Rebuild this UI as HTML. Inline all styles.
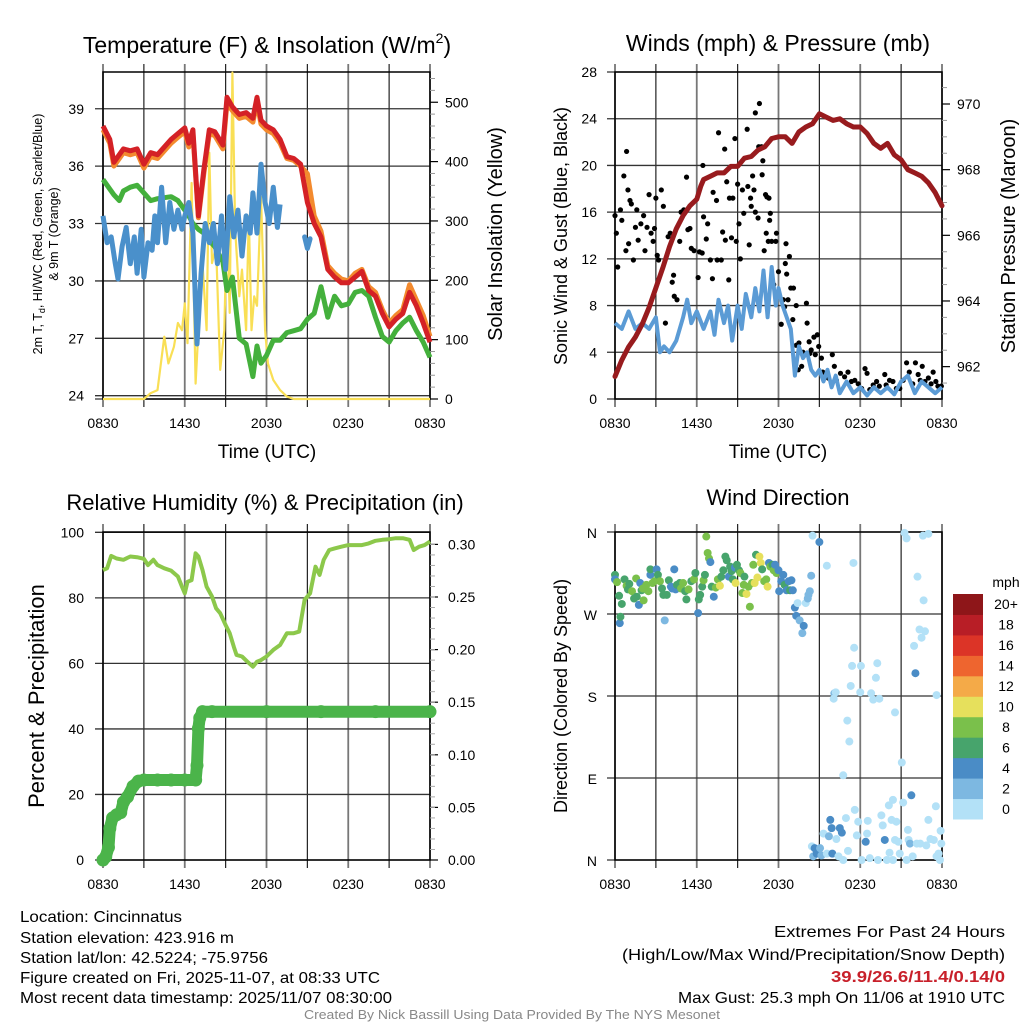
<!DOCTYPE html>
<html><head><meta charset="utf-8"><style>
html,body{margin:0;padding:0;background:#fff;}
svg{display:block;font-family:"Liberation Sans",sans-serif;}
</style></head><body>
<svg id="chart" width="1024" height="1024" viewBox="0 0 1024 1024" xmlns="http://www.w3.org/2000/svg">
<rect width="1024" height="1024" fill="#fff"/>
<g id="g1"></g>
<g id="g2"></g>
<g id="g3"></g>
<g id="g4"></g>
<g id="footer">
<text x="20" y="922" font-size="16" lengthAdjust="spacingAndGlyphs" textLength="162">Location: Cincinnatus</text>
<text x="20" y="943" font-size="16" lengthAdjust="spacingAndGlyphs" textLength="214">Station elevation: 423.916 m</text>
<text x="20" y="963" font-size="16" lengthAdjust="spacingAndGlyphs" textLength="248">Station lat/lon: 42.5224; -75.9756</text>
<text x="20" y="983" font-size="16" lengthAdjust="spacingAndGlyphs" textLength="360">Figure created on Fri, 2025-11-07, at 08:33 UTC</text>
<text x="20" y="1003" font-size="16" lengthAdjust="spacingAndGlyphs" textLength="372">Most recent data timestamp: 2025/11/07 08:30:00</text>
<text x="1005" y="937" font-size="16" text-anchor="end" lengthAdjust="spacingAndGlyphs" textLength="231">Extremes For Past 24 Hours</text>
<text x="1005" y="960" font-size="16" text-anchor="end" lengthAdjust="spacingAndGlyphs" textLength="383">(High/Low/Max Wind/Precipitation/Snow Depth)</text>
<text x="1005" y="982" font-size="16" font-weight="bold" fill="#c8202a" text-anchor="end" lengthAdjust="spacingAndGlyphs" textLength="174">39.9/26.6/11.4/0.14/0</text>
<text x="1005" y="1003" font-size="16" text-anchor="end" lengthAdjust="spacingAndGlyphs" textLength="327">Max Gust: 25.3 mph On 11/06 at 1910 UTC</text>
<text x="512" y="1019" font-size="13" fill="#888" text-anchor="middle" lengthAdjust="spacingAndGlyphs" textLength="416">Created By Nick Bassill Using Data Provided By The NYS Mesonet</text>
</g>
</svg>
<script>
// ---------- data ----------
const timeLabels = ["0830","1430","2030","0230","0830"];
// Temperature panel
const tempHours = [0,0.5,0.8,1.2,1.5,2,2.5,3,3.5,4,5,5.5,6,6.3,6.6,7,7.4,7.8,8.2,8.8,9.1,9.5,10,10.5,11,11.3,11.6,12,12.5,13,13.5,14,14.5,15,15.5,16,16.5,17,17.5,18,18.5,19,19.5,20,20.5,21,21.5,22,22.5,23,23.5,24];
const tempRed = [38.1,37.4,36.2,36.6,36.9,36.8,36.9,36.1,36.7,36.6,37.4,37.7,38.0,37.2,37.9,33.4,35.8,37.9,37.8,37.1,39.6,39.1,38.7,38.8,38.5,39.6,38.4,38.1,37.9,37.4,36.5,36.4,36.1,34.1,33.0,32.3,30.6,30.2,29.9,29.9,30.2,30.5,29.5,29.2,28.3,27.6,28.0,28.3,29.4,28.7,27.8,26.8];
const tempOrange = [37.9,37.2,36.0,36.4,36.7,36.6,36.7,35.9,36.5,36.4,37.2,37.5,37.8,37.0,37.7,33.3,35.6,37.7,37.6,36.9,39.3,38.9,38.5,38.6,38.3,39.3,38.2,37.9,37.7,37.2,36.4,36.3,36.0,35.6,33.4,32.6,30.8,30.4,30.1,30.0,30.4,30.6,29.7,29.4,28.5,27.8,28.2,28.5,29.8,29.0,28.2,27.1];
const tempGreen = [35.3,34.8,34.5,34.2,34.7,34.9,35.0,34.6,34.2,34.3,34.4,34.2,33.7,33.4,33.0,32.7,32.5,32.1,31.8,31.0,29.5,30.2,27.0,26.7,25.0,26.6,25.7,26.1,26.9,26.9,27.3,27.4,27.5,28.0,28.3,29.7,28.1,29.2,28.7,28.8,29.4,29.5,29.2,28.1,27.1,26.8,27.4,27.8,28.1,27.4,26.8,26.0];
const wcHours = [0,0.3,0.6,0.9,1.1,1.4,1.7,2,2.3,2.5,2.8,3,3.3,3.6,3.8,4,4.3,4.6,4.9,5.2,5.5,5.8,6,6.3,6.6,6.9,7.2,7.5,7.8,8.1,8.4,8.7,9,9.3,9.6,9.9,10.2,10.5,10.8,11,11.3,11.6,11.9,12.2,12.5,12.8,13];
const wcBlue = [33.4,32.0,32.3,30.9,30.1,31.8,32.8,30.9,32.3,30.4,32.7,30.2,32.0,31.6,33.4,32.0,34.9,32.0,34.1,32.7,33.7,32.7,33.4,34.1,32.5,26.7,30.4,33.0,32.0,33.0,30.9,33.4,30.6,34.4,32.3,33.7,31.3,33.4,32.5,34.6,32.5,36.1,34.1,33.0,34.9,32.8,34.0];
const wcHours2 = [14.8,15.0,15.2];
const wcBlue2 = [32.3,31.7,32.2];
const solarHours = [0,3,3.5,4,4.5,4.8,5.2,5.5,5.8,6,6.2,6.5,6.8,7,7.3,7.6,7.8,8,8.3,8.6,8.9,9.1,9.3,9.5,9.7,10,10.2,10.5,10.7,10.9,11.1,11.3,11.6,11.9,12.1,12.5,13,13.5,14,24];
const solarVals = [0,0,10,15,105,60,88,128,116,161,94,364,26,116,229,116,415,229,257,49,116,308,145,550,285,173,218,116,308,116,173,157,341,116,60,32,15,4,0,0];
const tempTicks = [24,27,30,33,36,39];
const solarTicks = [0,100,200,300,400,500];
// Winds panel
const windHours = [0,0.5,1,1.5,2,2.5,3,3.3,3.6,4,4.5,5,5.3,5.6,6,6.5,7,7.3,7.6,8,8.3,8.6,9,9.3,9.6,10,10.3,10.6,10.9,11.2,11.5,11.8,12,12.3,12.6,12.9,13.2,13.5,13.8,14.1,14.4,14.7,15,15.3,15.6,15.9,16.2,16.5,17,17.5,18,18.5,19,19.5,20,20.5,21,21.5,22,22.5,23,23.5,24];
const windVals = [6.5,6,7.5,6,6.5,6,7,4,4.5,4,5,7,8.5,6.5,7.5,6,7.5,5.5,8.5,6.5,8,5,8,6,9,7,9.5,7.5,11,7,11.3,8,9.5,8,7,6,2,4.5,3.5,4,2.5,2,2.5,1.5,2.5,1,2,0.5,1.5,0.5,1,0.3,1,0.5,1,0.4,1.5,2,0.5,1.5,1,0.5,1];
const presHours = [0,0.5,1,1.5,2,2.5,3,3.5,4,4.5,5,5.5,6,6.3,6.5,7,7.5,8,8.5,9,9.5,10,10.5,11,11.5,12,12.5,13,13.5,14,14.5,15,15.5,16,16.5,17,17.5,18,18.5,19,19.5,20,20.5,21,21.5,22,22.5,23,23.5,24];
const presVals = [961.7,962.2,962.6,962.9,963.3,963.8,964.4,965.0,965.65,966.2,966.6,966.9,967.1,967.5,967.7,967.8,967.9,967.9,968.1,968.1,968.35,968.4,968.6,968.7,968.95,969.0,969.0,968.8,969.15,969.3,969.4,969.7,969.6,969.5,969.55,969.4,969.3,969.3,969.1,968.8,968.65,968.8,968.45,968.3,968.0,967.9,967.8,967.6,967.3,966.9];
const gustHours = [0,0.1,0.2,0.4,0.5,0.65,0.8,0.85,0.95,1.0,1.1,1.2,1.35,1.5,1.6,1.7,1.9,2.1,2.2,2.35,2.5,2.65,2.8,2.9,3.0,3.1,3.2,3.4,3.55,3.7,3.9,4.05,4.2,4.3,4.35,4.55,4.75,4.85,5.05,5.25,5.35,5.5,5.6,5.8,6.1,6.2,6.4,6.45,6.5,6.7,6.8,7.0,7.15,7.2,7.45,7.5,7.6,7.8,7.9,8.05,8.1,8.2,8.35,8.4,8.55,8.65,8.8,8.9,9.0,9.1,9.2,9.35,9.45,9.7,9.75,9.85,9.95,10.0,10.1,10.2,10.3,10.3,10.5,10.55,10.6,10.75,10.8,10.85,10.95,11.05,11.15,11.3,11.35,11.4,11.1,11.25,11.5,11.65,11.8,11.85,12.0,12.2,12.35,12.45,12.5,12.55,12.6,12.7,12.8,12.9,13.05,13.1,13.3,13.3,13.45,13.5,13.7,13.8,13.9,14.05,14.1,14.25,14.3,14.4,14.6,14.7,14.85,14.95,15.15,15.25,15.5,15.65,15.95,16.1,16.25,16.55,16.85,17.1,17.35,17.6,17.85,18.1,18.35,18.5,18.7,18.95,19.2,19.4,19.8,19.9,20.15,20.4,20.65,20.9,21.15,21.4,21.6,21.85,22.05,22.25,22.4,22.55,22.75,23.0,23.2,23.35,23.55,23.7,23.95];
const gustVals = [15.7,14.2,11.3,16.2,15.3,19.1,12.7,21.2,17.9,13.3,17.0,16.7,11.9,14.7,16.2,13.6,15.0,15.7,12.7,14.7,17.5,14.2,13.5,14.6,17.2,12.3,11.9,17.9,16.5,6.5,13.9,14.2,10.0,10.6,8.8,8.5,13.5,16.0,16.2,19.0,14.5,14.6,12.9,12.7,10.4,12.6,12.5,20.0,15.6,13.7,15.0,11.9,10.3,17.7,17.0,11.9,22.8,11.9,14.3,21.4,13.6,18.6,10.2,17.2,13.8,17.2,22.3,13.5,18.4,15.0,12.0,17.9,15.9,23.1,18.2,13.2,17.2,16.5,19.1,17.9,16.0,24.5,15.5,21.6,25.3,21.6,19.2,20.4,12.7,17.5,17.3,17.2,15.3,15.9,14.2,13.5,13.5,9.8,13.5,14.2,10.9,6.4,8.5,7.9,11.6,13.3,10.7,8.5,12.2,9.5,6.8,9.5,8.0,4.6,2.5,4.8,2.8,4.0,3.8,8.2,6.5,4.9,3.9,4.2,5.3,3.8,5.5,4.5,3.5,2.3,2.0,1.8,3.8,2.8,1.6,2.2,1.9,2.3,1.5,1.6,1.3,0.9,2.6,2.2,0.8,1.2,1.5,1.1,2.1,1.2,1.6,1.5,0.9,0.9,1.6,3.1,2.3,1.3,3.1,2.1,1.6,2.8,1.5,1.8,1.3,2.3,1.5,1.1,1.1];
const windTicks = [0,4,8,12,16,20,24,28];
const presTicks = [962,964,966,968,970];
// Humidity panel
const rhHours = [0,0.3,0.6,1,1.5,2,2.5,3,3.3,3.7,4,4.5,5,5.5,5.8,6,6.2,6.5,6.8,7,7.3,7.6,8,8.3,8.6,9,9.3,9.6,9.8,10.2,10.6,11,11.3,11.6,12,12.5,13,13.5,14,14.4,14.8,15.2,15.6,15.9,16.2,16.6,17,17.5,18,18.5,19,19.5,20,20.5,21,21.5,22,22.5,22.8,23.2,23.6,24];
const rhVals = [88.5,89,92.8,92,91.6,92.6,92.4,91.9,90,91.6,90,89,88.3,86.5,83.4,81.4,84.9,85.4,93.6,92.6,88.5,83.4,80.4,76.8,75.3,71.7,69.2,65.1,62.6,62.1,60.5,59.0,60.5,61,62.1,64.1,65.6,69.2,69.2,69.7,79.4,81.4,89.5,87,91.6,94.6,95.1,95.6,96.1,96.1,96.1,96.6,97.4,97.7,97.9,98.2,98.2,97.7,94.6,95.6,96.1,97.2];
const precipHours = [0,0.2,0.4,0.5,0.7,1,1.3,1.5,1.8,2.2,2.6,3,4,5,6,6.8,6.9,7.0,7.1,7.3,8,12,16,20,24];
const precipVals = [0,0.003,0.012,0.03,0.04,0.043,0.045,0.055,0.06,0.07,0.075,0.076,0.076,0.076,0.076,0.076,0.09,0.125,0.135,0.141,0.141,0.141,0.141,0.141,0.141];
const rhTicks = [0,20,40,60,80,100];
const precipTicks = [0,0.05,0.10,0.15,0.20,0.25,0.30];
const precipTickLabels = ["0.00","0.05","0.10","0.15","0.20","0.25","0.30"];
// Direction panel
const dirHours = [0,0,0.15,0.3,0.35,0.4,0.5,0.7,0.85,0.95,1.05,1.25,1.4,1.55,1.6,1.75,1.85,1.95,2.05,2.1,2.3,2.45,2.6,2.6,2.75,2.9,3.05,3.15,3.3,3.45,3.55,3.65,3.8,3.95,4.1,4.2,4.35,4.45,4.55,4.75,4.85,5.0,5.15,5.24,5.4,5.6,5.8,5.9,6.1,6.15,6.25,6.4,6.5,6.6,6.7,6.8,6.9,7.0,7.1,7.25,7.4,7.55,7.7,7.8,7.95,8.1,8.2,8.35,8.45,8.55,8.65,8.8,8.85,8.95,9.1,9.2,9.35,9.45,9.5,9.65,9.8,9.9,10.05,10.15,10.25,10.35,10.45,10.6,10.7,10.8,10.95,11.1,11.2,11.3,11.4,11.55,11.65,11.75,11.85,12.0,12.05,12.2,12.35,12.45,12.6,12.75,12.85,12.95,13.05,13.2,13.3,13.4,13.55,13.75,13.85,14.0,14.15,14.2,14.3,14.4,14.5,15.0,15.55,17.5,16.1,16.05,16.2,16.75,17.05,17.2,17.3,17.4,17.55,18.0,18.05,18.8,18.95,19.15,19.25,19.4,20.55,21.05,21.25,21.4,22.2,22.65,22.35,22.5,22.75,21.95,22.05,22.6,23.0,23.6,14.45,14.55,14.65,14.8,15.05,15.15,15.3,15.55,15.7,15.8,15.9,15.95,16.25,16.4,16.5,16.65,16.75,16.95,17.1,17.6,17.75,17.85,18.1,18.4,18.5,18.55,18.7,19.3,19.55,19.65,19.8,19.95,20.1,20.15,20.3,20.4,20.55,20.65,20.8,20.9,21.15,21.4,21.5,21.55,21.65,21.75,21.85,22.15,22.4,22.85,23.0,23.15,23.4,23.55,23.6,23.75,23.9,23.95,23.85,20.4];
const dirVals = [313,308,305,290,260,267,281,308,301,297,303,295,287,309,289,280,304,296,298,285,302,295,313,319,304,306,319,313,306,298,291,263,291,307,300,298,319,297,302,304,298,304,295,286,297,306,308,315,271,286,291,300,307,313,355,337,331,327,300,289,299,308,301,311,318,333,329,311,322,317,308,321,304,324,318,315,293,302,311,292,300,278,304,324,304,335,310,333,326,319,306,308,300,326,322,324,318,324,315,318,295,306,313,302,296,306,296,307,296,277,268,282,263,249,257,282,287,291,295,312,356,349,323,326,183,177,184,93,153,130,191,213,233,184,213,183,176,200,216,177,162,107,359,353,311,285,253,244,251,235,205,356,358,181,15,4,13,7,13,5,29,7,26,44,35,7,23,4,35,30,0,46,10,55,27,42,0,20,29,43,2,0,49,38,22,0,60,8,44,66,22,42,20,7,63,0,33,22,18,71,4,18,18,16,44,23,22,59,4,7,32,18,0,0];
const dirSpeeds = [6,4,8,6,4,6,6,6,8,6,6,8,6,8,6,4,4,6,8,8,8,8,4,6,8,8,4,6,8,6,6,2,6,6,4,4,4,4,6,6,8,8,6,6,8,6,8,6,4,6,6,6,8,6,8,8,8,4,6,4,8,8,10,6,6,6,6,4,6,6,6,4,10,6,6,8,8,8,6,10,8,8,8,8,10,6,10,10,10,6,8,8,10,4,8,6,8,4,8,4,4,4,4,6,4,4,6,4,4,4,4,0,2,2,4,0,2,2,2,2,0,4,0,0,2,0,0,0,0,0,0,0,0,0,0,0,0,0,0,0,0,0,0,0,0,0,0,0,0,0,4,0,0,0,0,2,4,4,2,2,0,0,2,4,4,4,0,0,4,4,0,0,0,0,0,0,0,4,0,0,0,0,0,0,4,0,0,0,0,0,0,0,0,0,0,0,0,0,2,4,0,0,0,0,0,0,0,0,0,0,0,0,0,0];
const dirTickVals = [0,90,180,270,360];
const dirTickLabels = ["N","E","S","W","N"];
const speedBins = ["0","2","4","6","8","10","12","14","16","18","20+"];
const speedColors = ["#b3e1f7","#7db8e1","#4a8cc6","#47a46c","#7ac04b","#e6e05c","#f4aa48","#ee652f","#dc3427","#b81e26","#8e1619"];

// ---------- helpers ----------
const NS = "http://www.w3.org/2000/svg";
function mk(tag, attrs, parent){
  const e = document.createElementNS(NS, tag);
  for (const k in attrs) e.setAttribute(k, attrs[k]);
  parent.appendChild(e);
  return e;
}
function txt(parent, x, y, s, size, anchor, extra){
  const t = mk("text", Object.assign({x:x, y:y, "font-size":size, "text-anchor":anchor||"middle", fill:"#000"}, extra||{}), parent);
  t.textContent = s;
  return t;
}
function linePath(xs, ys, fx, fy){
  let d = "";
  for (let i=0;i<xs.length;i++) d += (i?"L":"M") + fx(xs[i]).toFixed(1) + "," + fy(ys[i]).toFixed(1);
  return d;
}
function frame(g, x0, x1, y0, y1, hGrid, hasRight){
  for (let i=0;i<=8;i++){
    const x = x0 + i*(x1-x0)/8;
    const gl = mk("line",{x1:x,x2:x,y1:y0-8,y2:y1+8,stroke:(i%2?"#222":"#777"),"stroke-width":(i%2?1.2:1.8)},g);
    
    
  }
  for (const y of hGrid){
    const hl = mk("line",{x1:x0-8,x2:x1,y1:y,y2:y,stroke:"#333","stroke-width":1.3},g);
    
    
  }
  const b = mk("rect",{x:x0,y:y0,width:x1-x0,height:y1-y0,fill:"none",stroke:"#000","stroke-width":1.5},g);
  
  
  timeLabels.forEach((s,i)=>{
    const t = txt(g, x0 + i*(x1-x0)/4, y1+29, s, 14);
    
    
  });
}

// ---------- Panel 1: temperature ----------
(function(){
  const g = document.getElementById("g1");
  const x0=103,x1=430,y0=72,y1=399;
  const X = h => x0 + h*(x1-x0)/24;
  const YT = t => 395.7 - (t-24)*19.13;
  const YS = w => 399 - w*0.5935;
  frame(g,x0,x1,y0,y1,tempTicks.map(YT).concat([399]),true);
  tempTicks.forEach(t=>{
    const l = txt(g, 84, YT(t)+5, String(t), 14, "end");
    
    
  });
  solarTicks.forEach(w=>{
    mk("line",{x1:x1,x2:x1+8,y1:YS(w),y2:YS(w),stroke:"#000","stroke-width":1.2},g);
    const l = txt(g, 445, YS(w)+5, String(w), 14, "start");
    
    
  });
  for (let w=20; w<560; w+=20){ if (w%100) mk("line",{x1:x1,x2:x1+5,y1:YS(w),y2:YS(w),stroke:"#999","stroke-width":1},g); }
  const s = mk("path",{d:linePath(solarHours,solarVals,X,YS),fill:"none",stroke:"#f9df55","stroke-width":2.2,"stroke-linejoin":"round"},g);
  
  
  const gr = mk("path",{d:linePath(tempHours,tempGreen,X,YT),fill:"none",stroke:"#44b03c","stroke-width":5,"stroke-linejoin":"round"},g);
  
  
  const bl = mk("path",{d:linePath(wcHours,wcBlue,X,YT),fill:"none",stroke:"#4a90cb","stroke-width":5,"stroke-linejoin":"round"},g);
  
  
  const bl2 = mk("path",{d:linePath(wcHours2,wcBlue2,X,YT),fill:"none",stroke:"#4a90cb","stroke-width":5,"stroke-linejoin":"round","stroke-linecap":"round"},g);
  
  
  const or = mk("path",{d:linePath(tempHours,tempOrange,X,YT),fill:"none",stroke:"#f38a2e","stroke-width":5,"stroke-linejoin":"round"},g);
  
  
  const rd = mk("path",{d:linePath(tempHours,tempRed,X,YT),fill:"none",stroke:"#d42126","stroke-width":5,"stroke-linejoin":"round"},g);
  
  
  const tt = txt(g, 267, 53, "", 23);
  tt.innerHTML = 'Temperature (F) &amp; Insolation (W/m<tspan font-size="14" dy="-10">2</tspan><tspan dy="10">)</tspan>';
  
  
  const xl = txt(g, 267, 458, "Time (UTC)", 19);
  
  
  const yl = mk("text",{transform:"translate(42,234) rotate(-90)","font-size":12.5,"text-anchor":"middle"},g);
  yl.innerHTML = '2m T, T<tspan font-size="9" dy="3">d</tspan><tspan dy="-3">, HI/WC (Red, Green, Scarlet/Blue)</tspan>';
  
  
  const yl2 = txt(g, 0, 0, "& 9m T (Orange)", 12.5, "middle", {transform:"translate(58,234) rotate(-90)"});
  
  
  const yr = txt(g, 0, 0, "Solar Insolation (Yellow)", 20, "middle", {transform:"translate(502,234) rotate(-90)"});
  
  
})();

// ---------- Panel 2: winds ----------
(function(){
  const g = document.getElementById("g2");
  const x0=615,x1=942,y0=72,y1=399;
  const X = h => x0 + h*(x1-x0)/24;
  const YW = m => 399 - m*(327/28);
  const YP = p => 104 + (970-p)*32.83;
  frame(g,x0,x1,y0,y1,windTicks.map(YW),true);
  windTicks.forEach(m=>{
    const l = txt(g, 597, YW(m)+5, String(m), 14, "end");
    
    
  });
  presTicks.forEach(p=>{
    mk("line",{x1:x1,x2:x1+8,y1:YP(p),y2:YP(p),stroke:"#000","stroke-width":1.2},g);
    const l = txt(g, 957, YP(p)+5, String(p), 14, "start");
    
    
  });
  for (let p=961.5; p<971; p+=0.5){ if (p%2) mk("line",{x1:x1,x2:x1+5,y1:YP(p),y2:YP(p),stroke:"#999","stroke-width":1},g); }
  gustHours.forEach((h,i)=>{
    const c = mk("circle",{cx:X(h),cy:YW(gustVals[i]),r:2.6,fill:"#000"},g);
    
    
  });
  const w = mk("path",{d:linePath(windHours,windVals,X,YW),fill:"none",stroke:"#5b9bd5","stroke-width":4,"stroke-linejoin":"round"},g);
  
  
  const p = mk("path",{d:linePath(presHours,presVals,X,YP),fill:"none",stroke:"#981b1e","stroke-width":5,"stroke-linejoin":"round","stroke-linecap":"round"},g);
  
  
  const tt = txt(g, 778, 51, "Winds (mph) & Pressure (mb)", 23);
  
  
  const xl = txt(g, 778, 458, "Time (UTC)", 19);
  
  
  const yl = txt(g, 0, 0, "Sonic Wind & Gust (Blue, Black)", 18, "middle", {transform:"translate(567,236) rotate(-90)"});
  
  
  const yr = txt(g, 0, 0, "Station Pressure (Maroon)", 20, "middle", {transform:"translate(1015,236) rotate(-90)"});
  
  
})();

// ---------- Panel 3: humidity ----------
(function(){
  const g = document.getElementById("g3");
  const x0=103,x1=430,y0=532,y1=860;
  const X = h => x0 + h*(x1-x0)/24;
  const YR = r => 860 - r*3.277;
  const YP = v => 860 - v*1052;
  frame(g,x0,x1,y0,y1,rhTicks.map(YR),true);
  rhTicks.forEach(r=>{
    const l = txt(g, 84, YR(r)+5, String(r), 14, "end");
    
    
  });
  precipTicks.forEach((v,i)=>{
    mk("line",{x1:x1,x2:x1+8,y1:YP(v),y2:YP(v),stroke:"#000","stroke-width":1.2},g);
    const l = txt(g, 448, YP(v)+5, precipTickLabels[i], 14, "start");
    
    
  });
  for (let v=0.01; v<0.31; v+=0.01){ mk("line",{x1:x1,x2:x1+5,y1:YP(v),y2:YP(v),stroke:"#aaa","stroke-width":1},g); }
  const rh = mk("path",{d:linePath(rhHours,rhVals,X,YR),fill:"none",stroke:"#8cc84b","stroke-width":4,"stroke-linejoin":"round"},g);
  
  
  const pr = mk("path",{d:linePath(precipHours,precipVals,X,YP),fill:"none",stroke:"#4bb44a","stroke-width":12,"stroke-linejoin":"round","stroke-linecap":"round"},g);
  
  
  precipHours.forEach((h,i)=>{
    const c = mk("circle",{cx:X(h),cy:YP(precipVals[i]),r:6.5,fill:"#4bb44a"},g);
    
    
  });
  const tt = txt(g, 265, 510, "Relative Humidity (%) & Precipitation (in)", 22);
  
  
  const yl = txt(g, 0, 0, "Percent & Precipitation", 22, "middle", {transform:"translate(44,696) rotate(-90)"});
  
  
})();

// ---------- Panel 4: wind direction ----------
(function(){
  const g = document.getElementById("g4");
  const x0=615,x1=942,y0=532,y1=860;
  const X = h => x0 + h*(x1-x0)/24;
  const YD = d => 860 - d*(328/360);
  frame(g,x0,x1,y0,y1,dirTickVals.map(YD),false);
  dirTickVals.forEach((d,i)=>{
    const l = txt(g, 597, YD(d)+6, dirTickLabels[i], 14, "end");
    
    
  });
  dirHours.forEach((h,i)=>{
    const bin = Math.min(10, Math.floor(dirSpeeds[i]/2));
    const c = mk("circle",{cx:X(h),cy:YD(dirVals[i]),r:4,fill:speedColors[bin]},g);
    
    
  });
  const bh = 225/speedBins.length;
  speedBins.forEach((s,i)=>{
    const y = 819 - (i+1)*bh;
    const r = mk("rect",{x:953,y:y,width:30,height:bh+0.5,fill:speedColors[i]},g);
    
    
    const l = txt(g, 1006, y+bh/2+5, s, 14, "middle");
    
    
  });
  const u = txt(g, 1006, 587, "mph", 14);
  
  
  const tt = txt(g, 778, 505, "Wind Direction", 22);
  
  
  const yl = txt(g, 0, 0, "Direction (Colored By Speed)", 18, "middle", {transform:"translate(567,696) rotate(-90)"});
  
  
})();
</script>
</body></html>
